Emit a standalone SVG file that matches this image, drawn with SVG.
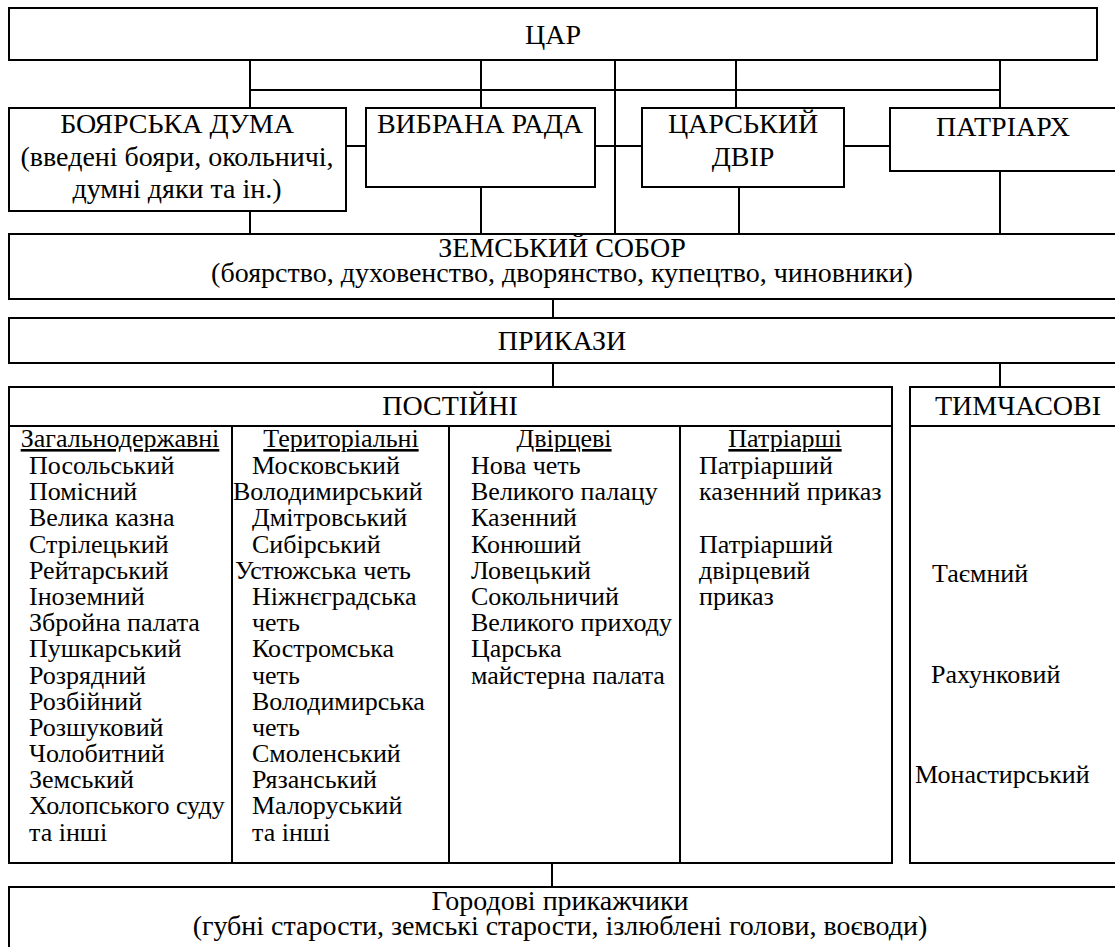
<svg xmlns="http://www.w3.org/2000/svg" width="1115" height="947" viewBox="0 0 1115 947">
<style>
.box{fill:#fff;stroke:#000;stroke-width:2}
.ln{stroke:#000;stroke-width:2;fill:none}
.t{font-size:28px;text-anchor:middle}
.i{font-size:26px}
.h{font-size:26px;text-anchor:middle;text-decoration:underline}
</style>
<rect width="1115" height="947" fill="#fff"/>
<g id="connectors">
<path class="ln" d="M250,60V108M481,60V108M615,60V234M736,60V108M1000,60V108M250,90H1000"/>
<path class="ln" d="M346,146H366M595,146H642M844,146H890"/>
<path class="ln" d="M250,211V234M481,187V234M739,187V234M1000,171V234"/>
<path class="ln" d="M553,299V318M553,363V387M1000,363V387M552,863V887"/>
</g>
<g font-family="Liberation Serif, serif" fill="#000">
<g id="tsar"><rect class="box" x="9" y="8" width="1088" height="52"/><text class="t" x="553" y="44">ЦАР</text></g>
<g id="duma"><rect class="box" x="9" y="108" width="337" height="103"/>
<text class="t" x="177" y="133">БОЯРСЬКА ДУМА</text>
<text class="t" x="177" y="166">(введені бояри, окольничі,</text>
<text class="t" x="177" y="198">думні дяки та ін.)</text></g>
<g id="rada"><rect class="box" x="366" y="108" width="229" height="79"/><text class="t" x="480" y="133">ВИБРАНА РАДА</text></g>
<g id="dvir"><rect class="box" x="642" y="108" width="202" height="79"/><text class="t" x="743" y="133">ЦАРСЬКИЙ</text><text class="t" x="743" y="166">ДВІР</text></g>
<g id="patriarch"><rect class="box" x="890" y="108" width="240" height="63"/><text class="t" x="1003" y="136">ПАТРІАРХ</text></g>
<g id="sobor"><rect class="box" x="9" y="234" width="1120" height="65"/>
<text class="t" x="562" y="257">ЗЕМСЬКИЙ СОБОР</text>
<text class="t" x="562" y="282">(боярство, духовенство, дворянство, купецтво, чиновники)</text></g>
<g id="prykazy"><rect class="box" x="9" y="318" width="1120" height="45"/><text class="t" x="562" y="350">ПРИКАЗИ</text></g>
<g id="postiyni">
<rect class="box" x="9" y="387" width="883" height="476"/>
<path class="ln" d="M9,426H892M232,426V863M449,426V863M680,426V863"/>
<text class="t" x="450" y="415">ПОСТІЙНІ</text>
<text class="h" x="120" y="447">Загальнодержавні</text>
<text class="h" x="341" y="447">Територіальні</text>
<text class="h" x="564" y="447">Двірцеві</text>
<text class="h" x="785" y="447">Патріарші</text>
<text class="i" x="29" y="474">Посольський</text>
<text class="i" x="29" y="500">Помісний</text>
<text class="i" x="29" y="526">Велика казна</text>
<text class="i" x="29" y="553">Стрілецький</text>
<text class="i" x="29" y="579">Рейтарський</text>
<text class="i" x="29" y="605">Іноземний</text>
<text class="i" x="29" y="631">Збройна палата</text>
<text class="i" x="29" y="657">Пушкарський</text>
<text class="i" x="29" y="684">Розрядний</text>
<text class="i" x="29" y="710">Розбійний</text>
<text class="i" x="29" y="736">Розшуковий</text>
<text class="i" x="29" y="762">Чолобитний</text>
<text class="i" x="29" y="788">Земський</text>
<text class="i" x="29" y="814">Холопського суду</text>
<text class="i" x="29" y="841">та інші</text>
<text class="i" x="252" y="474">Московський</text>
<text class="i" x="233" y="500">Володимирський</text>
<text class="i" x="252" y="526">Дмітровський</text>
<text class="i" x="252" y="553">Сибірський</text>
<text class="i" x="235" y="579">Устюжська четь</text>
<text class="i" x="252" y="605">Ніжнєградська</text>
<text class="i" x="252" y="631">четь</text>
<text class="i" x="252" y="657">Костромська</text>
<text class="i" x="252" y="684">четь</text>
<text class="i" x="252" y="710">Володимирська</text>
<text class="i" x="252" y="736">четь</text>
<text class="i" x="252" y="762">Смоленський</text>
<text class="i" x="252" y="788">Рязанський</text>
<text class="i" x="252" y="814">Малоруський</text>
<text class="i" x="252" y="841">та інші</text>
<text class="i" x="471" y="474">Нова четь</text>
<text class="i" x="471" y="500">Великого палацу</text>
<text class="i" x="471" y="526">Казенний</text>
<text class="i" x="471" y="553">Конюший</text>
<text class="i" x="471" y="579">Ловецький</text>
<text class="i" x="471" y="605">Сокольничий</text>
<text class="i" x="471" y="631">Великого приходу</text>
<text class="i" x="471" y="657">Царська</text>
<text class="i" x="471" y="684">майстерна палата</text>
<text class="i" x="699" y="474">Патріарший</text>
<text class="i" x="699" y="500">казенний приказ</text>
<text class="i" x="699" y="553">Патріарший</text>
<text class="i" x="699" y="579">двірцевий</text>
<text class="i" x="699" y="605">приказ</text>
</g>
<g id="tymchasovi">
<rect class="box" x="910" y="387" width="220" height="476"/>
<path class="ln" d="M910,426H1130"/>
<text class="t" x="1018" y="415">ТИМЧАСОВІ</text>
<text class="i" x="932" y="582">Таємний</text>
<text class="i" x="931" y="683">Рахунковий</text>
<text class="i" x="915" y="783">Монастирський</text>
</g>
<g id="horodovi">
<rect class="box" x="9" y="887" width="1120" height="80"/>
<text class="t" x="560" y="910">Городові прикажчики</text>
<text class="t" x="560" y="935">(губні старости, земські старости, ізлюблені голови, воєводи)</text>
</g>
</g>
</svg>
